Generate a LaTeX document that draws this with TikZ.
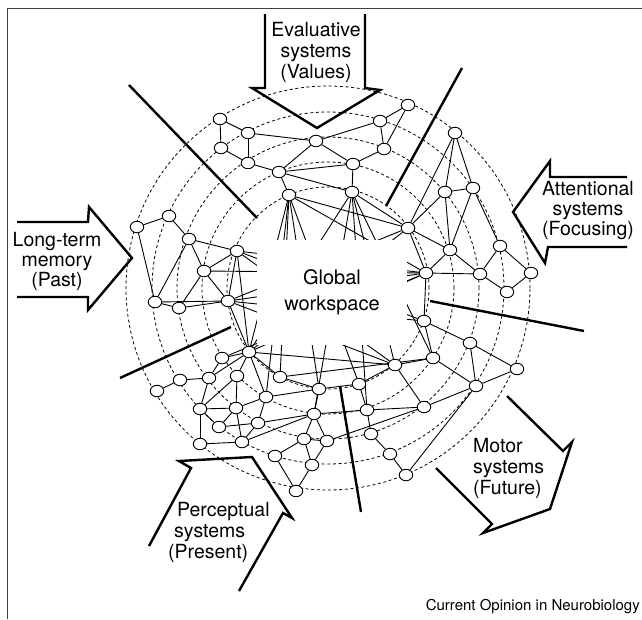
\documentclass[tikz,border=0pt]{standalone}
\usepackage{fontspec}
\setmainfont{TeX Gyre Heros}
\usetikzlibrary{shapes.geometric}
\pgfdeclarelayer{back}
\pgfsetlayers{back,main}
\begin{document}
\begin{tikzpicture}[
    x=1pt,y=-1pt,
    cell/.style={ellipse,draw,fill=white,line width=.9pt,
        minimum width=13.5pt,minimum height=11.5pt,inner sep=0pt},
    link/.style={line width=.9pt},
    ring/.style={line width=.8pt,dash pattern=on 3pt off 2.6pt},
    divider/.style={line width=2.4pt},
    inarrow/.style={line width=2.4pt,line join=miter},
    caption/.style={font=\fontsize{19.5}{21}\selectfont,align=center,inner sep=0pt}]
    \useasboundingbox (0,0) rectangle (642,619);
    \draw[line width=1pt,black!75] (7.5,619) -- (7.5,8) -- (642,8);
    \foreach \n/\x/\y in {
        v1/220/119,v2/248/133,v3/221/148,v4/248/163,v5/279/172,v6/316/141,
        v7/289/195,v8/380/121,v9/408/105,v10/384/149,v11/353/164,v12/352/192,
        a1/455/133,a2/445/192,a3/473/188,a4/408/228,a5/450/250,a6/500/246,
        a7/426/273,a8/480/274,a9/531/273,a10/507/292,
        m1/424/321,m2/470/343,m3/517/369,m4/476/386,m5/433/358,m6/395/365,
        m7/359/384,m8/367/410,m9/424/407,m10/371/434,m11/390/454,m12/406/475,
        l1/137/227,l2/169/216,l3/189/239,l4/237/251,l5/204/271,l6/228/301,
        l7/155/302,l8/179/308,
        p1/249/352,p2/222/358,p3/157/391,p4/180/380,p5/209/378,p6/237/376,
        p7/280/377,p8/319/389,p9/200/409,p10/236/408,p11/266/397,p12/219/427,
        p13/258/423,p14/314/414,p15/200/444,p16/242/442,p17/304/439,
        p18/327/441,p19/275/456,p20/312/465,p21/296/491}
        \node[cell] (\n) at (\x,\y) {};
    \begin{pgfonlayer}{back}
        \foreach \r in {101,126,151,176,202}
            \draw[ring] (328,288) circle[radius=\r pt];
        \foreach \a/\b in {
            v1/v2,v1/v3,v2/v4,v3/v4,v2/v6,v4/v5,v5/v6,v5/v7,v5/v11,v5/v12,
            v6/v8,v6/v11,v8/v9,v8/v10,v9/v10,v10/v11,v11/v12,v7/a4,v12/a4,
            a1/a4,a1/a2,a1/a3,a2/a3,a2/a4,a2/a5,a3/a5,a3/a6,a4/a5,a4/a7,
            a5/a7,a5/a8,a7/a8,a6/a8,a6/a9,a8/a10,a9/a10,a7/m1,
            m1/m5,m1/m2,m2/m3,m2/m4,m5/m4,m3/m4,m6/m5,m6/m9,m6/m7,m4/m9,
            m9/m8,m7/m8,m8/m10,m10/m11,m11/m12,m4/m12,p8/m7,p14/m8,p18/m9,
            l1/l2,l2/l3,l3/l4,l3/l5,l1/l7,l3/l7,l4/l5,l5/l6,l5/l8,l4/l6,
            l7/l8,l7/l6,l8/l6,l6/p1,l4/p1,
            p1/p2,p2/p5,p1/p5,p1/p6,p1/p11,p1/p7,p5/p4,p4/p3,p5/p9,p6/p9,
            p6/p10,p9/p10,p9/p15,p9/p12,p10/p12,p12/p13,p10/p11,p10/p16,
            p11/p13,p13/p16,p15/p16,p16/p14,p13/p14,p7/p8,p11/p8,p8/p14,
            p14/p17,p14/p18,p17/p18,p17/p19,p17/p20,p18/p20,p19/p21,p20/p21,
            p1/m6,p7/m5,
            v7/p1,v7/p11,v7/p7,v7/p8,v7/m7,v7/a7,v12/p1,v12/p14,v12/m6,
            v12/m5,v12/m8,a4/l6,a4/p1,a7/l4,a7/l5,a7/l6,a7/p2,p1/a7,
            m6/l4,m6/l6,l4/m1,l6/m1}
            \draw[link] (\a) -- (\b);
    \end{pgfonlayer}
    \node[fill=white,minimum width=150pt,minimum height=105pt,
        font=\fontsize{20}{26}\selectfont,align=center] (gw) at (332,292.5)
        {Global\\workspace};
    \draw[divider] (129,85) -- (257,218);
    \draw[divider] (462,68) -- (386,206);
    \draw[divider] (430,301) -- (584,331);
    \draw[divider] (120,378) -- (231,327);
    \draw[divider] (340,386) -- (361,512);
    \draw[inarrow] (265,14) -- (265,88) -- (252,88) -- (317,128)
        -- (380,90) -- (365,88) -- (365,14);
    \draw[inarrow] (627,177) -- (550,177) -- (550,161) -- (513,212)
        -- (545,263) -- (548,247) -- (627,247);
    \draw[inarrow] (17,222) -- (88,222) -- (89,207) -- (132,258)
        -- (88,310) -- (88,297) -- (17,297);
    \draw[inarrow] (149,546) -- (191,468) -- (179,461) -- (252,457)
        -- (292,518) -- (283,513) -- (239,591);
    \draw[inarrow] (507,396) -- (563,451) -- (572,442) -- (550,509)
        -- (483,533) -- (492,524) -- (436,468);
    \node[caption] (evaltxt) at (316,52) {Evaluative\\systems\\(Values)};
    \node[caption,font=\fontsize{19.5}{20}\selectfont] (attntxt) at (588,211)
        {Attentional\\systems\\(Focusing)};
    \node[caption,font=\fontsize{19.5}{20}\selectfont] (ltmtxt) at (57,261)
        {Long-term\\memory\\(Past)};
    \node[caption,align=left,anchor=west] (perctxt) at (168,532)
        {\hspace*{9pt}Perceptual\\\hspace*{6pt}systems\\(Present)};
    \node[caption,align=left,anchor=west] (motortxt) at (473,468)
        {Motor\\systems\\(Future)};
    \node[font=\fontsize{15}{18}\selectfont,anchor=east,inner sep=0pt]
        (credit) at (640,607) {Current Opinion in Neurobiology};
\end{tikzpicture}
\end{document}
